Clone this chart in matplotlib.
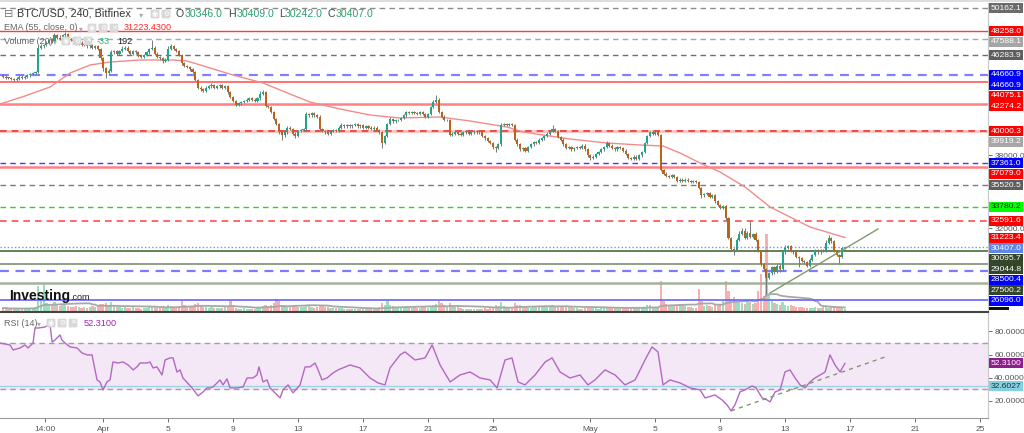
import numpy as np
import pandas as pd
import matplotlib
matplotlib.use("Agg")
import matplotlib.pyplot as plt
from matplotlib.patches import Rectangle
from matplotlib.ticker import FuncFormatter

plt.rcParams['font.family'] = ['Liberation Sans', 'DejaVu Sans']

# ------------------------------------------------------------------ data
# 4h candles, time in days since 2022-04-01 00:00
t_first = -6.1667
first_open_k = 44.6
close_k = [
    44.5, 44.4,                              # Mar 25
    44.4, 44.3, 44.2, 44.3, 44.5, 44.4,      # Mar 26
    44.5, 44.6, 44.7, 44.8, 44.9, 46.9,      # Mar 27
    47.0, 47.1, 47.3, 47.5, 47.4, 47.9,      # Mar 28
    47.7, 47.6, 47.9, 48.0, 47.6, 47.5,      # Mar 29
    47.4, 47.2, 47.3, 47.1, 47.2, 47.0,      # Mar 30
    47.1, 46.9, 47.0, 46.8, 46.0, 45.2,      # Mar 31
    44.8, 45.0, 46.5, 46.6, 46.4, 46.6,      # Apr 1
    46.8, 46.9, 46.6, 46.4, 46.6, 46.5,      # Apr 2
    46.2, 46.1, 46.3, 46.5, 46.8, 46.9,      # Apr 3
    46.4, 46.1, 46.0, 45.8, 45.9, 46.8,      # Apr 4
    47.0, 46.8, 46.6, 46.3, 45.6, 45.4,      # Apr 5
    45.3, 45.1, 44.9, 44.2, 43.6, 43.5,      # Apr 6
    43.3, 43.6, 43.7, 43.8, 43.6, 43.7,      # Apr 7
    43.8, 43.6, 43.7, 43.2, 42.8, 42.5,      # Apr 8
    42.2, 42.3, 42.4, 42.5, 42.6, 42.7,      # Apr 9
    42.6, 42.5, 42.7, 43.1, 43.2, 42.1,      # Apr 10
    42.0, 41.6, 41.0, 40.6, 39.9, 39.7,      # Apr 11
    39.9, 40.3, 40.2, 39.8, 39.6, 40.0,      # Apr 12
    40.1, 40.2, 41.4, 41.3, 41.5, 41.3,      # Apr 13
    41.2, 40.2, 40.0, 39.9, 39.8, 40.0,      # Apr 14
    40.1, 40.0, 40.3, 40.5, 40.4, 40.5,      # Apr 15
    40.4, 40.5, 40.6, 40.4, 40.5, 40.3,      # Apr 16
    40.4, 40.3, 40.2, 40.3, 40.1, 39.9,      # Apr 17
    39.0, 39.6, 40.6, 41.0, 40.8, 40.9,      # Apr 18
    40.9, 41.1, 41.3, 41.6, 41.5, 41.6,      # Apr 19
    41.5, 41.4, 41.6, 41.4, 41.2, 41.4,      # Apr 20
    42.0, 42.4, 42.6, 41.6, 41.2, 40.9,      # Apr 21
    40.9, 39.7, 39.8, 39.9, 39.8, 39.7,      # Apr 22
    39.9, 40.0, 39.8, 39.9, 40.0, 39.9,      # Apr 23
    39.9, 39.6, 39.4, 39.2, 39.0, 38.7,      # Apr 24
    38.6, 38.9, 40.5, 40.6, 40.5, 40.6,      # Apr 25
    40.5, 39.3, 38.9, 38.5, 38.6, 38.4,      # Apr 26
    38.7, 38.9, 39.1, 39.0, 39.3, 39.4,      # Apr 27
    39.6, 39.8, 40.0, 40.2, 40.0, 39.5,      # Apr 28
    39.3, 38.9, 38.6, 38.7, 38.5, 38.6,      # Apr 29
    38.7, 38.6, 38.8, 38.5, 38.0, 37.8,      # Apr 30
    37.9, 38.1, 38.3, 38.5, 38.7, 39.0,      # May 1
    38.8, 38.6, 38.5, 38.7, 38.6, 38.4,      # May 2
    38.1, 37.8, 37.7, 37.9, 37.7, 38.0,      # May 3
    38.3, 39.0, 39.6, 39.9, 39.8, 39.9,      # May 4
    39.7, 36.8, 36.5, 36.3, 36.2, 36.4,      # May 5
    36.2, 35.9, 36.0, 35.9, 36.0, 35.9,      # May 6
    35.8, 35.9, 35.8, 35.3, 34.7, 34.8,      # May 7
    34.9, 34.6, 34.7, 34.2, 33.9, 33.7,      # May 8
    33.8, 32.8, 31.2, 30.3, 30.2, 31.0,      # May 9
    31.5, 31.8, 31.2, 31.6, 31.3, 31.5,      # May 10
    31.0, 30.1, 29.0, 28.6, 27.9, 28.3,      # May 11
    28.8, 28.4, 28.9, 28.6, 30.0, 30.4,      # May 12
    30.5, 30.1, 30.0, 29.6, 29.5, 29.3,      # May 13
    29.2, 28.9, 29.4, 29.8, 30.2, 30.0,      # May 14
    30.2, 30.1, 30.8, 31.2, 30.9, 30.1,      # May 15
    29.8, 29.6, 30.346, 30.407,              # May 16
]
# wick lengths beyond the body, in $100
wick_up = [
    1, 1,
    1, 1, 1, 2, 1, 1,   1, 1, 1, 1, 1, 2,   2, 1, 1, 1, 2, 2,   1, 2, 1, 2, 1, 1,
    1, 1, 2, 1, 1, 1,   2, 1, 1, 1, 1, 1,   1, 1, 2, 1, 1, 1,   2, 1, 1, 1, 1, 1,
    1, 1, 1, 1, 1, 6,   1, 1, 1, 1, 1, 2,   2, 1, 1, 1, 1, 1,   1, 1, 1, 1, 1, 1,
    1, 1, 1, 2, 1, 1,   1, 1, 1, 1, 1, 1,   1, 1, 1, 1, 1, 1,   1, 1, 1, 2, 2, 1,
    1, 1, 1, 1, 1, 1,   2, 1, 1, 1, 1, 1,   1, 1, 2, 1, 1, 1,   1, 1, 1, 1, 1, 1,
    1, 1, 1, 2, 1, 1,   1, 1, 1, 1, 1, 1,   1, 1, 1, 1, 1, 1,   1, 1, 1, 2, 1, 1,
    1, 1, 1, 1, 1, 1,   1, 1, 1, 1, 1, 1,   1, 2, 4, 1, 1, 1,   1, 1, 1, 1, 1, 1,
    1, 1, 1, 1, 1, 1,   1, 1, 1, 1, 1, 1,   1, 1, 2, 1, 1, 1,   1, 1, 1, 1, 1, 1,
    1, 1, 1, 1, 1, 1,   1, 1, 1, 3, 1, 1,   1, 1, 1, 1, 1, 1,   1, 1, 1, 1, 1, 1,
    1, 1, 1, 1, 1, 2,   1, 1, 1, 1, 1, 1,   1, 1, 1, 1, 1, 1,   1, 1, 1, 1, 1, 1,
    1, 1, 1, 1, 1, 1,   1, 1, 1, 1, 1, 1,   1, 1, 1, 1, 1, 1,   1, 1, 1, 1, 1, 1,
    1, 1, 1, 1, 1, 2,   3, 2, 2, 2, 10, 1,  2, 1, 1, 1, 1, 1,   1, 1, 1, 1, 2, 2,
    1, 1, 1, 1, 1, 1,   1, 1, 1, 1, 1, 1,   1, 1, 2, 2, 1, 1,
    1, 1, 1, 0.02,
]
wick_dn = [
    1, 1,
    1, 1, 1, 1, 1, 1,   1, 1, 1, 1, 1, 1,   1, 1, 1, 1, 1, 1,   1, 1, 1, 1, 1, 1,
    1, 1, 1, 1, 1, 1,   1, 1, 1, 1, 1, 2,   4, 1, 1, 1, 1, 1,   1, 1, 1, 1, 1, 1,
    1, 1, 1, 1, 1, 1,   1, 1, 1, 2, 1, 1,   1, 1, 1, 1, 1, 1,   1, 1, 1, 1, 1, 2,
    1, 1, 1, 1, 1, 1,   1, 1, 1, 1, 1, 1,   1, 1, 1, 1, 1, 1,   1, 1, 1, 1, 1, 1,
    1, 1, 1, 1, 1, 4,   2, 1, 1, 1, 2, 1,   1, 1, 1, 1, 1, 1,   1, 1, 1, 1, 1, 1,
    1, 1, 1, 1, 1, 1,   1, 1, 1, 1, 1, 1,   1, 1, 1, 1, 1, 1,   4, 1, 1, 1, 1, 1,
    1, 1, 1, 1, 1, 1,   1, 1, 1, 1, 1, 1,   1, 1, 1, 1, 1, 1,   1, 1, 1, 1, 1, 1,
    1, 1, 1, 1, 1, 1,   1, 1, 1, 1, 1, 2,   3, 1, 1, 1, 1, 1,   1, 1, 1, 1, 1, 1,
    1, 1, 1, 1, 1, 1,   1, 1, 1, 1, 1, 1,   1, 1, 1, 1, 1, 1,   1, 1, 1, 1, 1, 2,
    1, 1, 1, 1, 1, 1,   1, 1, 1, 1, 1, 1,   1, 1, 1, 1, 1, 1,   1, 1, 1, 1, 1, 1,
    1, 1, 1, 1, 1, 1,   1, 1, 1, 1, 1, 1,   1, 1, 1, 1, 2, 1,   1, 1, 1, 1, 1, 1,
    1, 1, 1, 1, 4, 1,   1, 1, 1, 1, 1, 1,   1, 1, 1, 1, 13, 1,  2, 2, 1, 2, 1, 1,
    1, 1, 1, 1, 7, 1,   2, 1, 1, 1, 1, 1,   1, 1, 1, 1, 1, 1,
    1, 5, 1, 1.04,
]
# relative volume per candle
volume = [
    3, 3,
    2, 2, 3, 2, 3, 2,   2, 3, 2, 3, 4, 25,  10, 28, 8, 6, 7, 9,  6, 5, 7, 6, 5, 4,
    4, 5, 4, 3, 4, 3,   4, 5, 4, 5, 7, 7,   8, 5, 9, 6, 4, 4,    3, 4, 3, 3, 4, 3,
    3, 2, 3, 3, 4, 5,   4, 3, 4, 5, 4, 6,   5, 4, 4, 5, 10, 6,   5, 4, 5, 7, 8, 5,
    4, 4, 3, 4, 3, 3,   3, 3, 4, 5, 10, 5,  3, 2, 2, 3, 2, 2,    2, 2, 3, 4, 5, 6,
    5, 6, 8, 12, 10, 6, 6, 5, 5, 6, 5, 4,   4, 4, 6, 5, 4, 3,    4, 6, 5, 4, 4, 3,
    3, 3, 3, 3, 2, 2,   2, 2, 2, 2, 2, 2,   2, 2, 2, 3, 3, 4,    8, 6, 10, 6, 5, 4,
    4, 3, 4, 5, 4, 3,   4, 3, 3, 4, 4, 3,   5, 6, 7, 10, 8, 6,   5, 8, 5, 4, 4, 3,
    2, 2, 2, 2, 2, 2,   2, 2, 3, 2, 3, 4,   6, 5, 9, 5, 4, 3,    4, 8, 6, 6, 4, 4,
    4, 3, 4, 4, 5, 4,   4, 4, 5, 6, 5, 5,   5, 4, 5, 4, 4, 3,    3, 2, 2, 3, 4, 4,
    3, 3, 2, 3, 4, 4,   3, 4, 3, 3, 3, 3,   3, 4, 3, 3, 3, 3,    3, 4, 6, 6, 4, 3,
    4, 30, 10, 7, 6, 5, 6, 5, 6, 7, 5, 4,   4, 3, 3, 22, 10, 5,  6, 5, 4, 6, 7, 6,
    10, 30, 20, 12, 14, 10,  9, 8, 7, 10, 9, 7,  8, 20, 37, 15, 77, 17,  10, 8, 7, 6, 9, 6,
    5, 6, 5, 4, 4, 4,   3, 3, 3, 3, 4, 3,   3, 4, 4, 3, 4, 4,
    4, 3, 3, 2,
]

# EMA(55)
ema_t = [-6.35, -4.82, -3.27, -2.04, -0.81, 0.42, 2.27, 4.30, 5.16, 6.39, 7.99,
         9.84, 11.50, 12.73, 14.58, 16.43, 18.28, 20.74, 22.59, 24.86, 25.85,
         28.74, 31.02, 33.05, 34.47, 35.52, 36.75, 37.98, 39.52, 41.06, 42.29,
         43.52, 44.75, 45.67]
ema_p = [42241, 42901, 43644, 44799, 45459, 45707, 45872, 45872, 45789, 45294, 44634,
         43974, 43066, 42406, 41829, 41334, 41086, 41169, 40839, 40344, 39931,
         39353, 39023, 38858, 38776, 38198, 37373, 36631, 35393, 33743, 32918,
         32093, 31598, 31223.43]

# RSI(14)
rsi_t = [-6.36, -5.74, -5.55, -5.12, -4.82, -4.63, -4.32, -4.20, -4.02, -3.58, -3.28,
         -3.15, -2.97, -2.66, -2.54, -2.35, -2.04, -1.61, -1.31, -1.00, -0.69, -0.38,
         -0.20, -0.01, 0.23, 0.42, 0.60, 0.91, 1.22, 1.53, 1.84, 2.08, 2.27, 2.70,
         2.88, 3.07, 3.31, 3.50, 3.62, 3.81, 4.11, 4.30, 4.54, 4.73, 4.91, 5.47, 5.84,
         6.15, 6.39, 6.58, 6.76, 7.19, 7.38, 7.62, 7.81, 8.24, 8.61, 8.86, 9.22, 9.47,
         9.59, 9.84, 10.09, 10.27, 10.70, 10.89, 11.07, 11.38, 11.69, 12.12, 12.43,
         12.73, 13.04, 13.23, 13.47, 13.78, 14.15, 14.46, 15.20, 15.81, 16.43, 16.92,
         17.35, 17.66, 18.28, 18.58, 19.20, 19.82, 20.25, 20.74, 21.36, 21.97, 22.59,
         23.20, 23.82, 24.25, 24.74, 25.17, 25.54, 25.97, 26.59, 27.21, 27.64, 28.13,
         28.74, 29.36, 29.85, 30.28, 30.90, 31.52, 32.13, 32.75, 33.36, 33.79, 34.16,
         34.47, 34.90, 35.52, 36.13, 36.75, 37.06, 37.67, 38.10, 38.41, 38.66, 38.90,
         39.21, 39.52, 39.95, 40.20, 40.57, 40.87, 41.06, 41.37, 41.68, 41.98, 42.29,
         42.60, 42.91, 43.21, 43.52, 43.83, 44.14, 44.45, 44.75, 45.06, 45.37, 45.67]
rsi_v = [70.0, 68.3, 64.0, 65.7, 68.3, 65.7, 70.0, 83.0, 83.0, 83.9, 86.5,
         70.9, 72.6, 77.0, 72.6, 70.0, 66.6, 65.7, 61.4, 59.7, 59.7, 38.0,
         36.3, 29.4, 36.3, 38.0, 53.6, 52.7, 53.6, 51.0, 46.7, 49.3, 52.7, 52.7,
         53.6, 48.4, 49.3, 44.9, 42.3, 55.3, 57.1, 57.1, 44.9, 46.7, 39.7, 31.1, 24.2,
         27.6, 31.1, 31.1, 31.9, 38.0, 33.7, 38.9, 31.1, 31.1, 31.9, 39.7, 39.7, 42.3,
         49.3, 36.3, 38.0, 31.1, 25.0, 22.4, 29.4, 33.7, 26.8, 33.7, 49.3,
         49.3, 52.7, 46.7, 38.0, 39.7, 44.1, 46.7, 51.0, 48.4, 39.7, 35.4,
         33.7, 48.4, 59.7, 62.3, 55.3, 57.1, 68.3, 51.0, 36.3, 42.3, 44.9,
         39.7, 38.0, 31.1, 55.3, 57.1, 36.3, 33.7, 42.3, 53.6, 57.1, 44.9,
         39.7, 42.3, 33.7, 38.0, 46.7, 42.3, 33.7, 38.0, 55.3, 66.6, 62.3,
         33.7, 38.0, 35.4, 31.1, 29.4, 22.4, 25.0, 20.7, 16.4, 11.2, 16.4,
         27.6, 29.4, 32.8, 31.1, 22.4, 20.7, 19.0, 27.6, 29.4, 44.9, 46.7,
         39.7, 33.7, 31.1, 36.3, 39.7, 42.3, 44.9, 59.7, 51.0, 44.9, 52.31]
rsi_last = 52.31
rsi_level = 32.6027

# trend lines
trend_t = [41.06, 47.71]
trend_p = [26650, 31930]
rsi_trend_t = [38.66, 48.32]
rsi_trend_v = [11.2, 58.8]

# horizontal levels
hl_vals = [50162.1, 48258.0, 47588.1, 46283.9, 44660.9, 44075.1, 42274.2, 40000.3,
           37361.0, 37079.0, 35520.5, 33780.2, 32591.6, 30407.0, 30095.7, 29044.8,
           28500.4, 27500.2, 26096.0]
hl_colors = ['#8a8a8a', '#ff3b3b', '#a8a8a8', '#6e6e6e', '#8080ff', '#ff4a4a', '#ff8080',
             '#e53935', '#3d3dff', '#ff8080', '#7a7a7a', '#33cc33', '#ff4d4d', '#6f8fff',
             '#4b6b35', '#8fa085', '#7b7bff', '#a3b39a', '#6464ff']
hl_styles = ['dash', 'solid', 'dash', 'dash', 'dash', 'solid', 'solid', 'dash', 'dash',
             'solid', 'dash', 'dash', 'dash', 'dot', 'solid', 'solid', 'dash', 'solid', 'solid']
hl_widths = [1.0, 1.0, 1.0, 1.0, 1.6, 1.1, 1.8, 1.2, 1.0, 1.8, 1.0, 1.0, 1.2, 1.0, 1.2,
             1.4, 1.6, 1.8, 1.2]

# price-axis labels
lab_vals = [50162.1, 48258.0, 47588.1, 46283.9, 44660.9, 44660.9, 44075.1, 42274.2,
            40000.3, 39919.2, 37361.0, 37079.0, 35520.5, 33780.2, 32591.6, 31223.4,
            30407.0, 30095.7, 29044.8, 28500.4, 27500.2, 26096.0]
lab_bg = ['#6b6b6b', '#ff0000', '#a6a6a6', '#5e5e5e', '#0000ff', '#0000ff', '#ff0000',
          '#ff0000', '#ff0000', '#a6a6a6', '#0000ff', '#ff0000', '#5e5e5e', '#00ff00',
          '#ff0000', '#ff0000', '#5f86e8', '#34462a', '#34462a', '#0000ff', '#34462a',
          '#0000ff']
price_ticks = [38000, 32000]
rsi_ticks = [80, 60, 40, 20]

xtick_t = [-3.6, 0, 4, 8, 12, 16, 20, 24, 30, 34, 38, 42, 46, 50, 54]
xtick_lab = ['14:00', 'Apr', '5', '9', '13', '17', '21', '25', 'May', '5', '9', '13',
             '17', '21', '25']

# ------------------------------------------------------------------ figure
W, H = 1024, 433
fig = plt.figure(figsize=(W / 100, H / 100), dpi=100)
fig.patch.set_facecolor('white')

main_rect = [0, 1 - 311 / H, 988 / W, (311 - 3) / H]
rsi_rect = [0, 1 - 418 / H, 988 / W, (418 - 312) / H]

axv = fig.add_axes(main_rect)
ax = fig.add_axes(main_rect, sharex=axv)
axr = fig.add_axes(rsi_rect, sharex=axv)
ax.patch.set_alpha(0)

xlim = (-6.355, 54.48)
axv.set_xlim(*xlim)
ax.set_ylim(25162, 50575)
axv.set_ylim(0, 308)
axr.set_ylim(5.0, 96.9)

n = min(len(close_k), len(wick_up), len(wick_dn), len(volume))
c = np.array(close_k[:n]) * 1000
o = np.concatenate([[first_open_k * 1000], c[:-1]])
hi = np.maximum(o, c) + np.array(wick_up[:n]) * 100
lo = np.minimum(o, c) - np.array(wick_dn[:n]) * 100
t = t_first + np.arange(n) / 6.0
up = c >= o

# volume
vol = np.array(volume[:n], dtype=float)
vcol = np.where(up, '#8fdcb9', '#f7a8a8')
axv.bar(t, vol, width=0.14, color=vcol, linewidth=0, alpha=0.9)
vma = pd.Series(vol).rolling(20, min_periods=1).mean()
axv.plot(t, vma, color='#a8a8a8', lw=1.3)
axv.axis('off')

# horizontal levels
dmap = {'dash': (0, (4, 3)), 'dot': (0, (1, 1.6)), 'solid': '-'}
for v, col, st, lw in zip(hl_vals, hl_colors, hl_styles, hl_widths):
    if v == 40000.3:
        ax.axhline(v, color='#ffc4c4', lw=2.2, zorder=1.5)
    ax.axhline(v, color=col, lw=lw, ls=dmap[st], zorder=2)

# EMA
ax.plot(ema_t, ema_p, color='#f38b8b', lw=1.0, zorder=3)

# candles
ax.vlines(t, lo, hi, color='#777777', lw=0.7, zorder=4)
body_h = np.maximum(np.abs(c - o), 30)
ax.bar(t, body_h, bottom=np.minimum(o, c), width=0.13,
       color=np.where(up, '#22a38b', '#b8641c'), linewidth=0, zorder=5)

# trend line
ax.plot(trend_t, trend_p, color='#7f9a70', lw=1.0, zorder=6)

# axes styling main
for s in ['left', 'top', 'bottom']:
    ax.spines[s].set_visible(False)
ax.spines['right'].set_color('#c8c8c8')
ax.yaxis.tick_right()
ax.set_yticks(price_ticks)
ax.yaxis.set_major_formatter(FuncFormatter(lambda v, p: '%.1f' % v))
ax.tick_params(axis='y', labelsize=6.0, colors='#555555', length=3, pad=1.5, width=0.6)
ax.tick_params(axis='x', bottom=False, labelbottom=False)

# RSI panel
axr.axhspan(30, 70, color='#f4e8f6', zorder=0)
axr.axhline(70, color='#a0a0a0', lw=1.0, ls=(0, (4, 3)), zorder=1)
axr.axhline(30, color='#a0a0a0', lw=1.0, ls=(0, (4, 3)), zorder=1)
axr.axhline(rsi_level, color='#9fd3e8', lw=1.0, zorder=1.5)
m = min(len(rsi_t), len(rsi_v))
axr.plot(rsi_t[:m], rsi_v[:m], color='#b468c2', lw=1.0, zorder=3)
axr.plot(rsi_trend_t, rsi_trend_v, color='#7f9a70', lw=1.0, ls=(0, (3, 3)), zorder=4)
axr.spines['left'].set_visible(False)
axr.spines['top'].set_color('#444444')
axr.spines['top'].set_linewidth(1.5)
axr.spines['right'].set_color('#c8c8c8')
axr.spines['bottom'].set_color('#9a9a9a')
axr.yaxis.tick_right()
axr.set_yticks(rsi_ticks)
axr.yaxis.set_major_formatter(FuncFormatter(lambda v, p: '%.4f' % v))
axr.tick_params(axis='y', labelsize=6.0, colors='#555555', length=3, pad=1.5, width=0.6)
axr.set_xticks(xtick_t)
axr.set_xticklabels(xtick_lab)
axr.tick_params(axis='x', labelsize=6, colors='#555555', length=3, pad=3, width=0.6)
axr.set_xlim(*xlim)

# top border band
fig.add_artist(Rectangle((0, 1 - 2 / H), 1, 2 / H, transform=fig.transFigure,
                         fc='#dcdcdc', ec='none'))

# ------------------------------------------------------------------ price labels
def label_box(ydisp, txt, bg, fg='white'):
    yf = ydisp / H
    fig.add_artist(Rectangle((988.5 / W, yf - 5 / H), 34 / W, 10 / H,
                             transform=fig.transFigure, fc=bg, ec='none', zorder=5))
    fig.text(990.5 / W, yf, txt, fontsize=6.1, color=fg, va='center', ha='left', zorder=6)

order = sorted(range(len(lab_vals)), key=lambda i: -lab_vals[i])
prev = None
for i in order:
    yd = ax.transData.transform((0, lab_vals[i]))[1]
    if prev is not None and yd > prev - 10.5:
        yd = prev - 10.5
    prev = yd
    fg = '#1a1a1a' if lab_bg[i] == '#00ff00' else 'white'
    label_box(yd, '%.1f' % lab_vals[i], lab_bg[i], fg)
# dark marker below last label
fig.add_artist(Rectangle((988.5 / W, 1 - 310 / H), 20 / W, 3 / H,
                         transform=fig.transFigure, fc='#111111', ec='none', zorder=4))

for val, bg, fg in [(rsi_last, '#8e1e8e', 'white'), (rsi_level, '#84cfe0', '#17363d')]:
    yd = axr.transData.transform((0, val))[1]
    label_box(yd, '%.4f' % val, bg, fg)

# ------------------------------------------------------------------ header texts
def ftext(x, y, s, **kw):
    kw.setdefault('va', 'center')
    fig.text(x / W, 1 - y / H, s, **kw)

def icon(x, y, g):
    ftext(x, y, g, fontsize=5.0, color='white', family='DejaVu Sans', ha='center',
          bbox=dict(boxstyle='round,pad=0.2', fc='#d8d8d8', ec='none'))

ftext(4, 14, '⊟', fontsize=8, color='#777777', family='DejaVu Sans')
ftext(17, 14, 'BTC/USD, 240, Bitfinex', fontsize=7.8, color='#333333')
ftext(139, 14.5, '▾', fontsize=6, color='#aaaaaa', family='DejaVu Sans')
icon(155, 14, '◉')
icon(166, 14, '⚙')
for lx, letter, vx, val in [(176, 'O', 185, '30346.0'), (228, 'H', 237, '30409.0'),
                            (279, 'L', 285, '30242.0'), (328, 'C', 336, '30407.0')]:
    ftext(lx, 14, letter, fontsize=7.6, color='#444444')
    ftext(vx, 14, val, fontsize=7.6, color='#2b9e6e')

ftext(4, 28, 'EMA (55, close, 0)', fontsize=6.5, color='#666666')
ftext(79, 28.5, '▾', fontsize=5.5, color='#aaaaaa', family='DejaVu Sans')
icon(92, 28, '◉')
icon(103, 28, '⚙')
icon(114, 28, '✕')
ftext(124, 28, '31223.4300', fontsize=6.6, color='#ff2b2b')

ftext(4, 41, 'Volume (20)', fontsize=6.5, color='#666666')
ftext(53, 41.5, '▾', fontsize=5.5, color='#aaaaaa', family='DejaVu Sans')
icon(66, 41, '◉')
icon(77, 41, '⚙')
icon(88, 41, '✕')
ftext(97, 41, '-33', fontsize=6.6, color='#26b07a')
ftext(117, 41, '192', fontsize=6.6, color='#222222')

ftext(9, 296, 'Investing', fontsize=10, fontweight='bold', color='#111111')
ftext(70, 297.5, '.com', fontsize=6.5, color='#222222')

ftext(4, 323, 'RSI (14)', fontsize=6.5, color='#666666')
ftext(37, 323.5, '▾', fontsize=5.5, color='#aaaaaa', family='DejaVu Sans')
icon(51, 323, '◉')
icon(62, 323, '⚙')
icon(73, 323, '✕')
ftext(84, 323, '52.3100', fontsize=6.6, color='#9c27b0')

fig.savefig('out.png', dpi=100)
